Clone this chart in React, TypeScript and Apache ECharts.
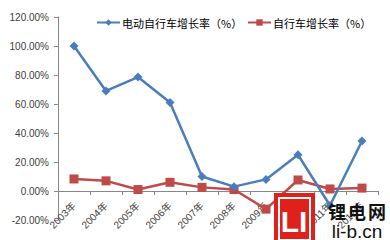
import React, { useEffect, useRef } from "react";
import * as echarts from "echarts";

const categories = ["2003年", "2004年", "2005年", "2006年", "2007年", "2008年", "2009年", "2010年", "2011年", "2012年"];
const ebikeGrowth = [100, 69, 78.6, 61, 10, 3, 8, 25, -10, 34.5];
const bikeGrowth = [8.3, 7, 1, 6, 2.5, 1, -12.5, 7.6, 1.4, 2];
const seriesNames = ["电动自行车增长率（%）", "自行车增长率（%）"];
const yTicks = { min: -20, max: 120, interval: 20 };

export default function App() {
  const ref = useRef<HTMLDivElement>(null);
  useEffect(() => {
    const chart = echarts.init(ref.current!, undefined, { renderer: "svg" });
    const labelColor = "#404040";
    const wm = (text: string, x: number) => ({
      type: "text",
      x,
      y: 211,
      style: { text, fill: "#111", font: "bold 18px Noto Sans CJK SC", align: "center", verticalAlign: "middle" },
      z: 11,
    });
    const legendBase = {
      orient: "horizontal",
      top: 12,
      itemWidth: 23,
      itemHeight: 8,
      textStyle: { fontSize: 11, color: "#000", fontFamily: "Noto Sans CJK SC, sans-serif", padding: [0, 0, 0, -3] },
    };
    chart.setOption({
      animation: false,
      textStyle: { fontFamily: "Liberation Sans, Noto Sans CJK SC, sans-serif" },
      grid: { left: 58, right: 12, top: 17, bottom: 20, containLabel: false, outerBoundsMode: "none" },
      legend: [
        { ...legendBase, left: 91, data: [seriesNames[0]] },
        { ...legendBase, left: 242, data: [seriesNames[1]] },
      ],
      xAxis: {
        type: "category",
        data: categories,
        offset: -29,
        axisLine: { onZero: false, lineStyle: { color: "#888", width: 1 } },
        axisTick: { show: true, length: 4, lineStyle: { color: "#888" } },
        axisLabel: { rotate: 45, fontSize: 10, color: labelColor, margin: 13, interval: 0 },
        splitLine: { show: false },
      },
      yAxis: {
        type: "value",
        min: yTicks.min,
        max: yTicks.max,
        interval: yTicks.interval,
        axisLine: { show: true, lineStyle: { color: "#888" } },
        axisTick: { show: true, length: 4, lineStyle: { color: "#888" } },
        splitLine: { show: false },
        axisLabel: {
          fontSize: 10,
          color: labelColor,
          margin: 9,
          formatter: (v: number) => v.toFixed(2) + "%",
        },
      },
      series: [
        {
          name: seriesNames[0],
          type: "line",
          data: ebikeGrowth,
          symbol: "diamond",
          symbolSize: 9,
          lineStyle: { color: "#4a7ebb", width: 2.5 },
          itemStyle: { color: "#4a7ebb" },
          z: 3,
        },
        {
          name: seriesNames[1],
          type: "line",
          data: bikeGrowth,
          symbol: "rect",
          symbolSize: 9,
          lineStyle: { color: "#be4b48", width: 2.5 },
          itemStyle: { color: "#be4b48" },
          z: 2,
        },
      ],
      graphic: [
        { type: "rect", shape: { x: 274, y: 193, width: 41, height: 47 }, style: { fill: "#e0201b" }, z: 10 },
        { type: "rect", shape: { x: 279, y: 198, width: 31, height: 42 }, style: { fill: "none", stroke: "#fff", lineWidth: 2 }, z: 10 },
        {
          type: "text",
          x: 294,
          y: 221,
          style: { text: "LI", fill: "#fff", font: "bold 30px Liberation Sans", align: "center", verticalAlign: "middle" },
          z: 11,
        },
        wm("锂", 337),
        wm("电", 357),
        wm("网", 377),
        {
          type: "text",
          x: 357,
          y: 231,
          style: { text: "li-b.cn", fill: "#111", font: "19px Liberation Sans", align: "center", verticalAlign: "middle" },
          z: 11,
        },
      ],
    });
    return () => chart.dispose();
  }, []);
  return <div ref={ref} style={{ width: 390, height: 240, position: "absolute", left: 0, top: 0, background: "#fff" }} />;
}
